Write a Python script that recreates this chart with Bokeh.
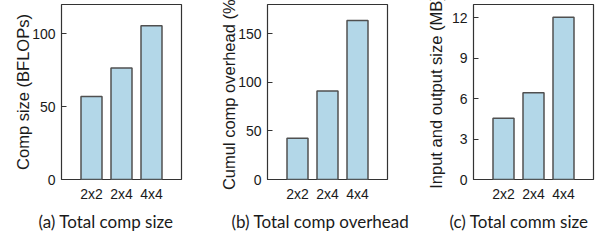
from bokeh.plotting import figure
from bokeh.models import FactorRange, Range1d, FixedTicker, Title, ColumnDataSource
from bokeh.layouts import row
from bokeh.embed import file_html
from bokeh.resources import INLINE

configs = ["2x2", "2x4", "4x4"]
comp_size = [57, 76.5, 105.5]
comp_overhead = [42.5, 91, 163.5]
comm_size = [4.55, 6.45, 12.05]

y_max = [120, 180, 13]
y_ticks = [[0, 50, 100], [0, 50, 100, 150], [0, 3, 6, 9, 12]]
y_labels = ["Comp size (BFLOPs)", "Cumul comp overhead (%)", "Input and output size (MB)"]
captions = ["(a) Total comp size", "(b) Total comp overhead", "(c) Total comm size"]
series = [comp_size, comp_overhead, comm_size]

BAR_FILL = "#b3d7e8"
BAR_LINE = "#505050"
FRAME = "#333333"
TXT = "#1a1a1a"

widths = [206, 206, 190]
offsets = [-23, -36, -24]
label_standoffs = [-3, -3, 4]

figs = []
for i in range(3):
    p = figure(
        x_range=FactorRange(factors=configs, range_padding=0.5, range_padding_units="absolute"),
        y_range=Range1d(0, y_max[i]),
        width=widths[i], height=244,
        min_border_left=61, min_border_right=widths[i] - 61 - 120,
        min_border_top=4, min_border_bottom=65,
        output_backend="svg", toolbar_location=None,
    )
    src = ColumnDataSource(dict(x=configs, top=series[i]))
    p.vbar(x="x", top="top", width=0.7, bottom=0, source=src,
           fill_color=BAR_FILL, line_color=BAR_LINE, line_width=1.5)
    p.grid.visible = False
    p.background_fill_color = "white"
    p.border_fill_color = "white"
    p.outline_line_color = FRAME
    p.outline_line_width = 1.2

    ya = p.yaxis[0]
    ya.ticker = FixedTicker(ticks=y_ticks[i])
    ya.axis_line_color = None
    ya.major_tick_in = 5
    ya.major_tick_out = 0
    ya.major_tick_line_color = FRAME
    ya.minor_tick_line_color = None
    ya.major_label_text_font = "Liberation Sans"
    ya.major_label_text_font_size = "14px"
    ya.major_label_text_color = TXT
    ya.major_label_standoff = 6
    ya.axis_label = y_labels[i]
    ya.axis_label_text_font = "Liberation Sans"
    ya.axis_label_text_font_size = "16.5px"
    ya.axis_label_text_font_style = "normal"
    ya.axis_label_text_color = TXT
    ya.axis_label_standoff = label_standoffs[i]

    xa = p.xaxis[0]
    xa.axis_line_color = None
    xa.major_tick_line_color = None
    xa.major_tick_in = 0
    xa.major_tick_out = 0
    xa.minor_tick_line_color = None
    xa.major_label_text_font = "Liberation Sans"
    xa.major_label_text_font_size = "14px"
    xa.major_label_text_color = TXT
    xa.major_label_standoff = 6

    t = Title(text=captions[i], align="left", offset=offsets[i],
              text_font="Lato", text_font_size="17px", text_font_style="normal",
              text_color=TXT, standoff=9)
    p.add_layout(t, "below")
    figs.append(p)

layout = row(*figs, spacing=0)

open("out.html", "w").write(file_html(layout, INLINE))
